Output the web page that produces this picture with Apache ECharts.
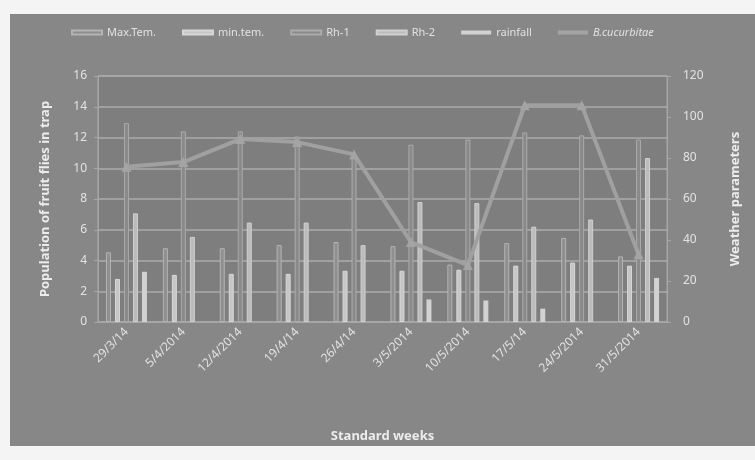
<!DOCTYPE html>
<html>
<head>
<meta charset="utf-8">
<script src="https://cdn.jsdelivr.net/npm/echarts@6/dist/echarts.min.js"></script>
<style>
html,body{margin:0;padding:0;background:#f4f4f4;}
#panel{position:absolute;left:10px;top:14px;width:745px;height:432px;background:#878787;}
#chart{position:absolute;left:0;top:0;width:755px;height:460px;}
</style>
</head>
<body>
<div id="panel"></div>
<div id="chart"></div>
<script>
const weeks = ['29/3/14','5/4/2014','12/4/2014','19/4/14','26/4/14','3/5/2014','10/5/2014','17/5/14','24/5/2014','31/5/2014'];
const maxTem = [34, 36, 36, 37.5, 39, 37, 28, 38.5, 41, 32];
const minTem = [21, 23, 23.5, 23.5, 25, 25, 25.5, 27.5, 29, 27.5];
const rh1 = [97, 93, 93, 90.5, 81.5, 86.5, 89, 92.5, 91, 89];
const rh2 = [53, 41.5, 48.5, 48.5, 37.5, 58.5, 58, 46.5, 50, 80];
const rainfall = [24.5, 0, 0, 0, 0, 11, 10.5, 6.5, 0, 21.5];
const cucurbitae = [10.1, 10.4, 11.9, 11.7, 10.9, 5.2, 3.7, 14.1, 14.1, 4.4];
const leftTicks = [0, 16, 2];
const rightTicks = [0, 120, 20];

const txt = '#e2e2e2';
const font = 'Noto Sans';
function bar(name, data, color, border, bw) {
  return {
    name, type: 'bar', yAxisIndex: 1, data,
    barWidth: 5, barGap: '80%',
    itemStyle: { color, borderColor: border, borderWidth: bw }
  };
}
const chart = echarts.init(document.getElementById('chart'));
chart.setOption({
  animation: false,
  backgroundColor: 'transparent',
  textStyle: { fontFamily: font },
  legend: {
    top: 22, left: 66, itemWidth: 30, itemHeight: 4, itemGap: 26,
    textStyle: { color: txt, fontSize: 11, fontFamily: font },
    data: [
      { name: 'Max.Tem.', icon: 'rect' },
      { name: 'min.tem.', icon: 'rect' },
      { name: 'Rh-1', icon: 'rect' },
      { name: 'Rh-2', icon: 'rect' },
      { name: 'rainfall', icon: 'rect' },
      { name: 'B.cucurbitae', icon: 'rect', textStyle: { fontStyle: 'italic' } }
    ]
  },
  grid: {
    left: 98, right: 88, top: 76, bottom: 138,
    show: true, backgroundColor: '#7e7e7e', borderColor: '#a6a6a6', borderWidth: 1
  },
  xAxis: {
    type: 'category', data: weeks,
    name: 'Standard weeks', nameLocation: 'middle', nameGap: 108,
    nameTextStyle: { color: '#ececec', fontSize: 13, fontWeight: 'bold', fontFamily: font },
    axisLine: { lineStyle: { color: '#a6a6a6' } },
    axisTick: { show: false },
    axisLabel: { rotate: 45, color: txt, fontSize: 12, margin: 8, interval: 0, fontFamily: font }
  },
  yAxis: [
    {
      type: 'value', min: leftTicks[0], max: leftTicks[1], interval: leftTicks[2],
      name: 'Population of fruit flies in trap', nameLocation: 'middle', nameGap: 46,
      nameTextStyle: { color: '#ececec', fontSize: 13, fontWeight: 'bold', fontFamily: font },
      axisLine: { show: true, lineStyle: { color: '#a6a6a6' } },
      axisTick: { show: true, length: 4, lineStyle: { color: '#a6a6a6' } },
      axisLabel: { color: txt, fontSize: 12, margin: 11, fontFamily: font },
      splitLine: { lineStyle: { color: '#acacac', width: 1.5 } }
    },
    {
      type: 'value', min: rightTicks[0], max: rightTicks[1], interval: rightTicks[2],
      name: 'Weather parameters', nameLocation: 'middle', nameGap: 62, nameRotate: 90,
      nameTextStyle: { color: '#ececec', fontSize: 13, fontWeight: 'bold', fontFamily: font },
      axisLine: { show: true, lineStyle: { color: '#a6a6a6' } },
      axisTick: { show: true, length: 4, lineStyle: { color: '#a6a6a6' } },
      axisLabel: { color: txt, fontSize: 12, margin: 16, fontFamily: font },
      splitLine: { show: false }
    }
  ],
  series: [
    bar('Max.Tem.', maxTem, '#8f8f8f', '#b4b4b4', 1),
    bar('min.tem.', minTem, '#c6c6c6', '#d8d8d8', 1),
    bar('Rh-1', rh1, '#8a8a8a', '#ababab', 1),
    bar('Rh-2', rh2, '#bcbcbc', '#d0d0d0', 1),
    bar('rainfall', rainfall, '#d2d2d2', '#e0e0e0', 0),
    {
      name: 'B.cucurbitae', type: 'line', yAxisIndex: 0, data: cucurbitae, z: 5,
      symbol: 'triangle', symbolSize: 10,
      lineStyle: { color: '#a0a0a0', width: 4 },
      itemStyle: { color: '#a4a4a4' }
    }
  ]
});
</script>
</body>
</html>
